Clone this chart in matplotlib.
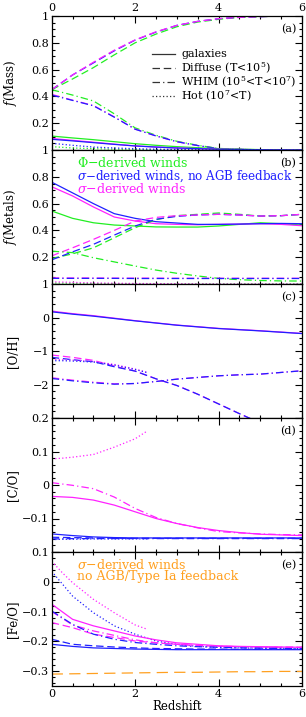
import matplotlib
matplotlib.use("Agg")
import matplotlib.pyplot as plt
from matplotlib.ticker import MultipleLocator, FuncFormatter

plt.rcParams['font.family'] = ['DejaVu Serif']
plt.rcParams['mathtext.fontset'] = 'dejavuserif'

GREEN = '#22ee22'
BLUE = '#2020ff'
MAG = '#ff22ff'
ORANGE = '#ffa020'

z = [0, 0.5, 1, 1.5, 2, 2.5, 3, 3.5, 4, 4.5, 5, 5.5, 6]
z_short = [0, 0.25, 0.5, 1, 1.5, 2, 2.3]

# Panel (a): f(Mass)
a_dif_blue = [0.45, 0.56, 0.65, 0.74, 0.82, 0.88, 0.93, 0.96, 0.98, 0.99, 0.995, 1.0, 1.0]
a_dif_mag = [0.45, 0.56, 0.655, 0.745, 0.822, 0.882, 0.93, 0.96, 0.98, 0.99, 0.995, 1.0, 1.0]
a_dif_green = [0.45, 0.53, 0.615, 0.71, 0.80, 0.865, 0.92, 0.955, 0.975, 0.99, 0.995, 1.0, 1.0]
a_whim_green = [0.45, 0.41, 0.366, 0.27, 0.165, 0.11, 0.065, 0.035, 0.012, 0.005, 0.002, 0.0, 0.0]
a_whim_blue = [0.41, 0.37, 0.33, 0.245, 0.155, 0.105, 0.062, 0.033, 0.01, 0.004, 0.002, 0.0, 0.0]
a_whim_mag = [0.415, 0.372, 0.332, 0.247, 0.156, 0.105, 0.062, 0.033, 0.01, 0.004, 0.002, 0.0, 0.0]
a_gal_green = [0.104, 0.09, 0.077, 0.062, 0.047, 0.035, 0.025, 0.017, 0.01, 0.006, 0.003, 0.001, 0.0]
a_gal_blue = [0.08, 0.068, 0.055, 0.042, 0.03, 0.022, 0.015, 0.01, 0.006, 0.004, 0.002, 0.001, 0.0]
a_gal_mag = [0.086, 0.072, 0.058, 0.044, 0.031, 0.022, 0.015, 0.01, 0.006, 0.004, 0.002, 0.001, 0.0]
a_hot_blue = [0.05, 0.035, 0.022, 0.015, 0.01, 0.006, 0.004, 0.002, 0.001, 0.0, 0.0, 0.0, 0.0]
a_hot_green = [0.025, 0.015, 0.01, 0.006, 0.004, 0.002, 0.001, 0.0, 0.0, 0.0, 0.0, 0.0, 0.0]

# Panel (b): f(Metals)
b_gal_blue = [0.76, 0.68, 0.60, 0.525, 0.49, 0.465, 0.455, 0.445, 0.445, 0.447, 0.45, 0.452, 0.45]
b_gal_mag = [0.726, 0.657, 0.575, 0.50, 0.47, 0.45, 0.445, 0.442, 0.445, 0.447, 0.45, 0.445, 0.435]
b_gal_green = [0.545, 0.49, 0.457, 0.44, 0.433, 0.426, 0.425, 0.425, 0.433, 0.445, 0.457, 0.45, 0.44]
b_dif_mag = [0.21, 0.27, 0.333, 0.40, 0.47, 0.497, 0.51, 0.515, 0.52, 0.515, 0.507, 0.51, 0.52]
b_dif_blue = [0.18, 0.24, 0.296, 0.365, 0.433, 0.483, 0.505, 0.515, 0.52, 0.515, 0.507, 0.51, 0.52]
b_dif_green = [0.19, 0.225, 0.27, 0.345, 0.42, 0.48, 0.51, 0.52, 0.53, 0.52, 0.507, 0.51, 0.52]
b_whim_green = [0.245, 0.234, 0.196, 0.165, 0.134, 0.104, 0.08, 0.06, 0.042, 0.032, 0.026, 0.023, 0.022]
b_whim_blue = [0.042, 0.042, 0.042, 0.042, 0.041, 0.041, 0.041, 0.041, 0.041, 0.041, 0.041, 0.041, 0.041]
b_whim_mag = [0.046, 0.045, 0.045, 0.044, 0.044, 0.044, 0.043, 0.043, 0.043, 0.043, 0.043, 0.043, 0.043]
b_hot_mag = [0.017, 0.012, 0.008, 0.006, 0.004, 0.003, 0.002, 0.001, 0.0, 0.0, 0.0, 0.0, 0.0]
b_hot_green = [0.008, 0.006, 0.004, 0.003, 0.002, 0.001, 0.0, 0.0, 0.0, 0.0, 0.0, 0.0, 0.0]

# Panel (c): [O/H]
c_gal_blue = [0.17, 0.10, 0.04, -0.03, -0.10, -0.165, -0.23, -0.28, -0.33, -0.365, -0.40, -0.44, -0.48]
c_gal_mag = [0.19, 0.115, 0.055, -0.02, -0.095, -0.16, -0.225, -0.275, -0.325, -0.36, -0.395, -0.435, -0.475]
c_dif_mag = [-1.12, -1.19, -1.28, -1.45, -1.60, -1.83, -2.03, -2.29, -2.58, -2.87, -3.15, -3.4, -3.65]
c_dif_blue = [-1.19, -1.26, -1.32, -1.47, -1.60, -1.83, -2.03, -2.29, -2.58, -2.87, -3.15, -3.4, -3.65]
c_dd_mag = [-1.80, -1.87, -1.93, -1.98, -1.97, -1.91, -1.84, -1.79, -1.74, -1.71, -1.69, -1.64, -1.59]
c_dd_blue = [-1.82, -1.89, -1.95, -1.99, -1.97, -1.91, -1.84, -1.79, -1.74, -1.71, -1.69, -1.64, -1.59]
c_hot_blue = [-1.29, -1.29, -1.30, -1.33, -1.42, -1.55, -1.65]
c_hot_mag = [-1.25, -1.26, -1.27, -1.31, -1.40, -1.54, -1.64]

# Panel (d): [C/O]
d_hot_mag = [0.078, 0.080, 0.083, 0.091, 0.113, 0.138, 0.162]
d_dd_mag = [0.007, -0.001, -0.011, -0.036, -0.07, -0.097, -0.115, -0.128, -0.139, -0.143, -0.146, -0.148, -0.149]
d_gal_mag = [-0.034, -0.037, -0.045, -0.06, -0.08, -0.10, -0.115, -0.127, -0.136, -0.142, -0.147, -0.149, -0.151]
d_gal_blue = [-0.146, -0.151, -0.155, -0.157, -0.158, -0.158, -0.158, -0.158, -0.158, -0.158, -0.158, -0.158, -0.158]
d_dd_blue = [-0.161, -0.160, -0.160, -0.160, -0.160, -0.160, -0.160, -0.160, -0.160, -0.160, -0.160, -0.160, -0.160]
d_dif_blue = [-0.156, -0.157, -0.158, -0.159, -0.159, -0.159, -0.159, -0.159, -0.159, -0.159, -0.159, -0.159, -0.159]
d_hot_blue = [-0.163, -0.162, -0.162, -0.161, -0.161, -0.161, -0.161]

# Panel (e): [Fe/O]
e_noagb_orange = [-0.310, -0.309, -0.308, -0.307, -0.306, -0.305, -0.304, -0.304, -0.303, -0.302, -0.302, -0.301, -0.301]
e_hot_mag = [0.069, 0.031, -0.003, -0.059, -0.104, -0.145, -0.160]
e_hot_blue = [0.035, -0.048, -0.104, -0.148, -0.176, -0.199, -0.21, -0.217, -0.22, -0.222, -0.223, -0.223, -0.224]
e_gal_mag = [-0.075, -0.126, -0.148, -0.165, -0.182, -0.195, -0.205, -0.21, -0.215, -0.217, -0.218, -0.219, -0.22]
e_dif_mag = [-0.137, -0.154, -0.176, -0.187, -0.199, -0.205, -0.21, -0.214, -0.217, -0.218, -0.219, -0.22, -0.22]
e_dd_mag = [-0.10, -0.145, -0.165, -0.18, -0.195, -0.205, -0.21, -0.214, -0.216, -0.218, -0.219, -0.22, -0.22]
e_dd_blue = [-0.098, -0.143, -0.176, -0.193, -0.204, -0.21, -0.215, -0.218, -0.22, -0.222, -0.223, -0.224, -0.225]
e_dif_blue = [-0.193, -0.21, -0.215, -0.219, -0.222, -0.224, -0.225, -0.226, -0.226, -0.227, -0.227, -0.227, -0.227]
e_gal_blue = [-0.21, -0.217, -0.222, -0.224, -0.226, -0.227, -0.228, -0.228, -0.228, -0.228, -0.228, -0.228, -0.228]

panel_labels = ['(a)', '(b)', '(c)', '(d)', '(e)']
ylabels = ['$f$(Mass)', '$f$(Metals)', '[O/H]', '[C/O]', '[Fe/O]']
ylims = [(0, 1), (0, 1), (-3, 1), (-0.2, 0.2), (-0.35, 0.1)]
ymajor = [0.2, 0.2, 1, 0.1, 0.1]
yminor = [0.05, 0.05, 0.2, 0.02, 0.02]

LS = {'gal': '-', 'dif': (0, (6, 3)), 'dd': (0, (6, 2.5, 1, 2.5)), 'hot': (0, (1, 1.8))}
LW = 0.9

W, H = 306, 717
fig = plt.figure(figsize=(W / 100, H / 100), dpi=100)
left = 51.7 / W
width = (302 - 51.7) / W
ph = 134 / H
bottom0 = 1 - 686 / H

axes = []
for i in range(5):
    b = bottom0 + (4 - i) * ph
    ax = fig.add_axes([left, b, width, ph])
    axes.append(ax)

def fmt(v, pos=None):
    s = ('%g' % round(v, 6))
    if s == '-0':
        s = '0'
    return s.replace('-', '\u2212')

for i, ax in enumerate(axes):
    ax.set_xlim(0, 6)
    ax.set_ylim(*ylims[i])
    ax.xaxis.set_major_locator(MultipleLocator(2))
    ax.xaxis.set_minor_locator(MultipleLocator(0.5))
    lo, hi = ylims[i]
    ax.yaxis.set_major_locator(MultipleLocator(ymajor[i]))
    ax.yaxis.set_minor_locator(MultipleLocator(yminor[i]))
    hide_bottom = i < 4
    def yf(v, pos, lo=lo, hide=hide_bottom):
        if hide and abs(v - lo) < 1e-6:
            return ''
        return fmt(v)
    ax.yaxis.set_major_formatter(FuncFormatter(yf))
    ax.xaxis.set_major_formatter(FuncFormatter(lambda v, p: fmt(v)))
    ax.tick_params(which='both', direction='in', top=True, right=True, labelsize=8, width=0.8)
    ax.tick_params(which='major', length=5)
    ax.tick_params(which='minor', length=2.5)
    ax.tick_params(axis='x', labelbottom=(i == 4), labeltop=(i == 0), pad=2)
    ax.tick_params(axis='y', pad=2)
    for sp in ax.spines.values():
        sp.set_linewidth(0.9)
    ax.set_ylabel(ylabels[i], fontsize=8.5, labelpad=2)
    ax.yaxis.set_label_coords(-0.13, 0.5)
    ax.text(0.977, 0.9, panel_labels[i], transform=ax.transAxes, ha='right', va='center', fontsize=8)

axes[4].set_xlabel('Redshift', fontsize=8.5, labelpad=1)

# (a)
ax = axes[0]
ax.plot(z, a_dif_green, color=GREEN, ls=LS['dif'], lw=LW)
ax.plot(z, a_dif_blue, color=BLUE, ls=LS['dif'], lw=LW)
ax.plot(z, a_dif_mag, color=MAG, ls=LS['dif'], lw=LW)
ax.plot(z, a_whim_green, color=GREEN, ls=LS['dd'], lw=LW)
ax.plot(z, a_whim_mag, color=MAG, ls=LS['dd'], lw=LW)
ax.plot(z, a_whim_blue, color=BLUE, ls=LS['dd'], lw=LW)
ax.plot(z, a_gal_green, color=GREEN, ls=LS['gal'], lw=LW)
ax.plot(z, a_gal_mag, color=MAG, ls=LS['gal'], lw=LW)
ax.plot(z, a_gal_blue, color=BLUE, ls=LS['gal'], lw=LW)
ax.plot(z, a_hot_green, color=GREEN, ls=LS['hot'], lw=LW)
ax.plot(z, a_hot_blue, color=BLUE, ls=LS['hot'], lw=LW)
leg_items = [('galaxies', 'gal'), ('Diffuse (T<10$^5$)', 'dif'),
             ('WHIM (10$^5$<T<10$^7$)', 'dd'), ('Hot (10$^7$<T)', 'hot')]
for k, (txt, key) in enumerate(leg_items):
    yy = 0.715 - k * 0.105
    ax.plot([2.4, 2.95], [yy, yy], color='#333333', ls=LS[key], lw=LW)
    ax.text(3.1, yy, txt, fontsize=8, va='center', ha='left')

# (b)
ax = axes[1]
ax.plot(z, b_gal_green, color=GREEN, ls=LS['gal'], lw=LW)
ax.plot(z, b_gal_mag, color=MAG, ls=LS['gal'], lw=LW)
ax.plot(z, b_gal_blue, color=BLUE, ls=LS['gal'], lw=LW)
ax.plot(z, b_dif_green, color=GREEN, ls=LS['dif'], lw=LW)
ax.plot(z, b_dif_blue, color=BLUE, ls=LS['dif'], lw=LW)
ax.plot(z, b_dif_mag, color=MAG, ls=LS['dif'], lw=LW)
ax.plot(z, b_whim_green, color=GREEN, ls=LS['dd'], lw=LW)
ax.plot(z, b_whim_mag, color=MAG, ls=LS['dd'], lw=LW)
ax.plot(z, b_whim_blue, color=BLUE, ls=LS['dd'], lw=LW)
ax.plot(z, b_hot_green, color=GREEN, ls=LS['hot'], lw=LW)
ax.plot(z, b_hot_mag, color=MAG, ls=LS['hot'], lw=LW)
ax.text(0.6, 0.905, '$\\Phi$\u2212derived winds', color=GREEN, fontsize=9, va='center')
ax.text(0.6, 0.805, '$\\sigma$\u2212derived winds, no AGB feedback', color=BLUE, fontsize=8.6, va='center')
ax.text(0.6, 0.706, '$\\sigma$\u2212derived winds', color=MAG, fontsize=9, va='center')

# (c)
ax = axes[2]
ax.plot(z, c_gal_mag, color=MAG, ls=LS['gal'], lw=LW)
ax.plot(z, c_gal_blue, color=BLUE, ls=LS['gal'], lw=LW)
ax.plot(z, c_dif_mag, color=MAG, ls=LS['dif'], lw=LW)
ax.plot(z, c_dif_blue, color=BLUE, ls=LS['dif'], lw=LW)
ax.plot(z, c_dd_mag, color=MAG, ls=LS['dd'], lw=LW)
ax.plot(z, c_dd_blue, color=BLUE, ls=LS['dd'], lw=LW)
ax.plot(z_short, c_hot_mag, color=MAG, ls=LS['hot'], lw=LW)
ax.plot(z_short, c_hot_blue, color=BLUE, ls=LS['hot'], lw=LW)

# (d)
ax = axes[3]
ax.plot(z_short, d_hot_mag, color=MAG, ls=LS['hot'], lw=LW)
ax.plot(z, d_dd_mag, color=MAG, ls=LS['dd'], lw=LW)
ax.plot(z, d_gal_mag, color=MAG, ls=LS['gal'], lw=LW)
ax.plot(z, d_gal_blue, color=BLUE, ls=LS['gal'], lw=LW)
ax.plot(z, d_dd_blue, color=BLUE, ls=LS['dd'], lw=LW)
ax.plot(z, d_dif_blue, color=BLUE, ls=LS['dif'], lw=LW)
ax.plot(z_short, d_hot_blue, color=BLUE, ls=LS['hot'], lw=LW)

# (e)
ax = axes[4]
ax.plot(z, e_noagb_orange, color=ORANGE, ls=(0, (9, 5)), lw=LW)
ax.plot(z_short, e_hot_mag, color=MAG, ls=LS['hot'], lw=LW)
ax.plot(z, e_hot_blue, color=BLUE, ls=LS['hot'], lw=LW)
ax.plot(z, e_gal_mag, color=MAG, ls=LS['gal'], lw=LW)
ax.plot(z, e_dif_mag, color=MAG, ls=LS['dif'], lw=LW)
ax.plot(z, e_dd_mag, color=MAG, ls=LS['dd'], lw=LW)
ax.plot(z, e_dd_blue, color=BLUE, ls=LS['dd'], lw=LW)
ax.plot(z, e_dif_blue, color=BLUE, ls=LS['dif'], lw=LW)
ax.plot(z, e_gal_blue, color=BLUE, ls=LS['gal'], lw=LW)
ax.text(0.6, 0.058, '$\\sigma$\u2212derived winds', color=ORANGE, fontsize=9, va='center')
ax.text(0.6, 0.017, 'no AGB/Type Ia feedback', color=ORANGE, fontsize=9, va='center')

fig.savefig('out.png', dpi=100)
